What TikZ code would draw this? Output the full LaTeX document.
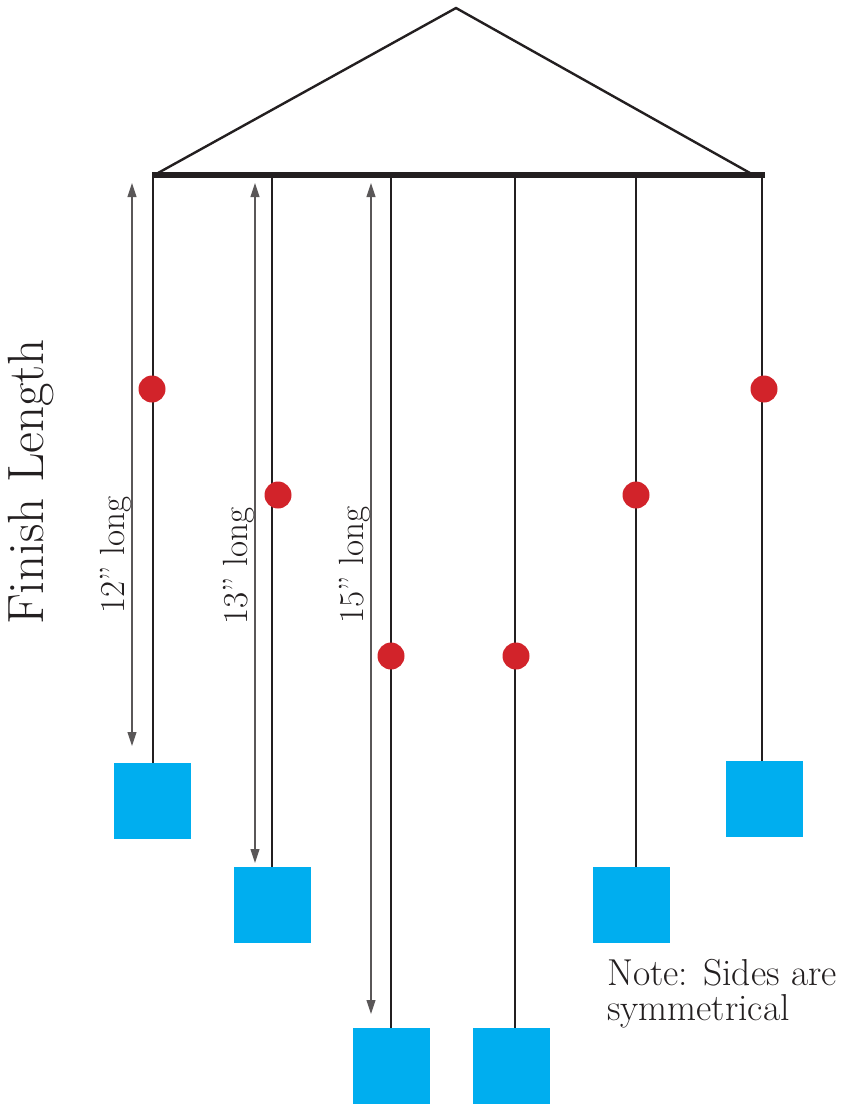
\documentclass[tikz,border=0pt]{standalone}
\usetikzlibrary{arrows.meta}
\definecolor{ink}{HTML}{231F20}
\definecolor{dotred}{HTML}{D2232A}
\definecolor{boxblue}{HTML}{00AEEF}
\begin{document}
\begin{tikzpicture}[x=1pt,y=-1pt,
  string/.style={draw=ink,line width=2.6pt},
  weight/.style={fill=boxblue,draw=none,minimum width=77pt,minimum height=76pt,inner sep=0pt},
  bead/.style={circle,fill=dotred,draw=none,minimum size=27pt,inner sep=0pt},
  dim/.style={draw=ink!75,line width=1.1pt,{Triangle[length=14pt,width=9pt]}-{Triangle[length=14pt,width=9pt]}},
  lbl/.style={text=ink,font=\fontsize{35}{40}\selectfont,rotate=90,inner sep=0pt}]
\useasboundingbox (0,0) rectangle (841,1104);
% hanger
\coordinate (apex) at (456,8);
\coordinate (tl) at (158,173);
\coordinate (tr) at (750,173);
\draw[ink,line width=2.4pt] (tl) -- (apex) -- (tr);
\coordinate (barL) at (152,175);
\coordinate (barR) at (765,175);
\draw[ink,line width=6.5pt] (barL) -- (barR);
% weights
\node[weight] (w1) at (152,801) {};
\node[weight] (w2) at (272,905) {};
\node[weight] (w3) at (391,1066) {};
\node[weight] (w4) at (511,1066) {};
\node[weight] (w5) at (631,905) {};
\node[weight] (w6) at (764,799) {};
% top points
\coordinate (t1) at (153,176);
\coordinate (t2) at (272,176);
\coordinate (t3) at (391,176);
\coordinate (t4) at (515,176);
\coordinate (t5) at (636,176);
\coordinate (t6) at (762,176);
\draw[string] (t1) -- (t1 |- w1.north);
\draw[string] (t2) -- (t2 |- w2.north);
\draw[string] (t3) -- (t3 |- w3.north);
\draw[string] (t4) -- (t4 |- w4.north);
\draw[string] (t5) -- (t5 |- w5.north);
\draw[string] (t6) -- (t6 |- w6.north);
% beads
\node[bead] (b1) at (152,389) {};
\node[bead] (b2) at (278,495) {};
\node[bead] (b3) at (391,656) {};
\node[bead] (b4) at (516,656) {};
\node[bead] (b5) at (636,495) {};
\node[bead] (b6) at (764,389) {};
% dimension arrows
\coordinate (a1t) at (132,183);
\coordinate (a1b) at (132,746);
\coordinate (a2t) at (255,183);
\coordinate (a2b) at (255,863);
\coordinate (a3t) at (371,183);
\coordinate (a3b) at (371,1014);
\draw[dim] (a1t) -- (a1b);
\draw[dim] (a2t) -- (a2b);
\draw[dim] (a3t) -- (a3b);
\node[lbl] (l1) at (116,555) {12” long};
\node[lbl] (l2) at (239,566) {13” long};
\node[lbl] (l3) at (355,565) {15” long};
% titles
\node[text=ink,font=\fontsize{51}{56}\selectfont,rotate=90,inner sep=0pt] (fl) at (31,482) {Finish Length};
\node[text=ink,font=\fontsize{37.5}{42}\selectfont,anchor=base west,inner sep=0pt] (n1) at (607,985) {Note: Sides are};
\node[text=ink,font=\fontsize{37.5}{42}\selectfont,anchor=base west,inner sep=0pt] (n2) at (607,1020) {symmetrical};
\end{tikzpicture}
\end{document}
